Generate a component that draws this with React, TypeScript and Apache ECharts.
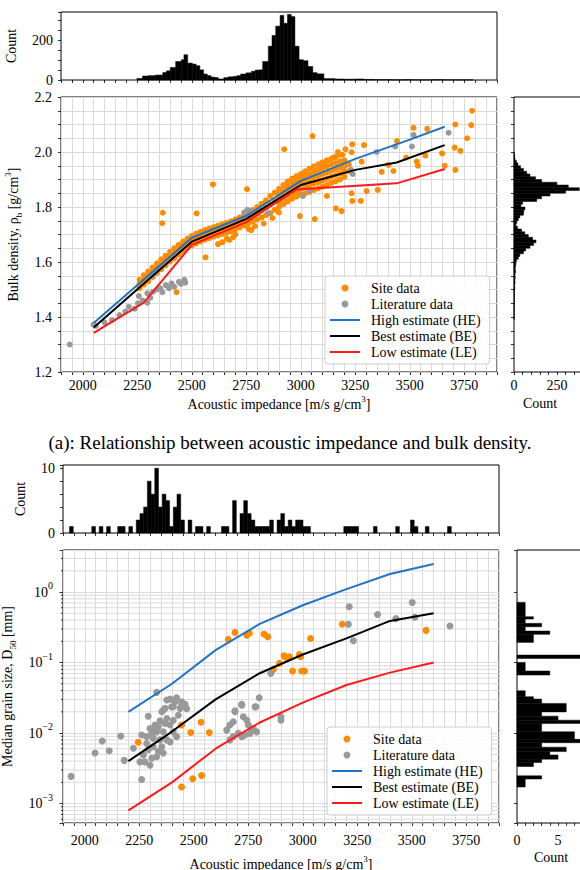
import React, { useEffect, useRef } from "react";
import * as echarts from "echarts";

const FONT = '"Liberation Serif", "Times New Roman", "DejaVu Serif", serif';
const SERIES_NAMES = ["Site data", "Literature data", "High estimate (HE)", "Best estimate (BE)", "Low estimate (LE)"];
const X_TICK_LABELS = [2000, 2250, 2500, 2750, 3000, 3250, 3500, 3750];
const X_MIN = 1900;
const X_MAX = 3900;
const COL_SITE = "#ff8c00";
const COL_LIT = "#999999";
const COL_HE = "#1f74c6";
const COL_BE = "#000000";
const COL_LE = "#ff1a1a";
const GRID_C = "#dadada";
const CAPTION_A = "(a): Relationship between acoustic impedance and bulk density.";

// ---------------- Panel (a): impedance vs bulk density ----------------
// top histogram: [x0, x1, count]
const topHistA: [number, number, number][] = [
  [2248, 2274, 8], [2274, 2299, 20], [2299, 2333, 22], [2333, 2367, 25], [2367, 2384, 38], [2384, 2401, 46],
  [2401, 2426, 63], [2426, 2452, 93], [2452, 2464, 102], [2464, 2481, 127], [2481, 2503, 85], [2503, 2520, 80],
  [2520, 2537, 72], [2537, 2554, 51], [2554, 2571, 30], [2571, 2588, 22], [2588, 2605, 15], [2605, 2622, 12],
  [2622, 2647, 5], [2647, 2668, 12], [2668, 2690, 16], [2690, 2707, 18], [2707, 2724, 22], [2724, 2749, 30],
  [2749, 2774, 36], [2774, 2791, 44], [2791, 2808, 50], [2808, 2825, 51], [2825, 2851, 93], [2851, 2868, 170],
  [2868, 2885, 224], [2885, 2905, 271], [2905, 2922, 325], [2922, 2939, 285], [2939, 2956, 330], [2956, 2973, 319],
  [2973, 2992, 170], [2992, 3012, 102], [3012, 3033, 97], [3033, 3055, 68], [3055, 3075, 37], [3075, 3106, 31],
  [3106, 3157, 7], [3157, 3200, 5], [3200, 3250, 4], [3250, 3290, 5], [3290, 3335, 3], [3335, 3380, 2],
  [3380, 3420, 2], [3420, 3470, 1], [3470, 3510, 2], [3510, 3560, 1], [3560, 3610, 1], [3610, 3650, 2],
  [3650, 3700, 1], [3700, 3750, 1], [3750, 3790, 1],
];
// right histogram: [lower edge, count], bin width below
const rightHistABin = 0.01;
const rightHistA: [number, number][] = [
  [1.39, 1], [1.40, 1], [1.41, 1], [1.42, 1], [1.43, 2], [1.44, 1], [1.45, 2], [1.46, 2], [1.47, 3], [1.48, 2],
  [1.49, 3], [1.50, 5], [1.51, 3], [1.52, 6], [1.53, 5], [1.54, 7], [1.55, 6], [1.56, 9], [1.57, 7], [1.58, 9],
  [1.59, 11], [1.60, 14], [1.61, 25], [1.62, 34], [1.63, 55], [1.64, 68], [1.65, 93], [1.66, 114], [1.67, 128],
  [1.68, 108], [1.69, 83], [1.70, 63], [1.71, 44], [1.72, 20], [1.73, 11], [1.74, 16], [1.75, 25], [1.76, 34],
  [1.77, 55], [1.78, 57], [1.79, 64], [1.80, 40], [1.81, 50], [1.82, 132], [1.83, 160], [1.84, 210], [1.85, 300],
  [1.86, 380], [1.87, 316], [1.88, 250], [1.89, 161], [1.90, 125], [1.91, 93], [1.92, 74], [1.93, 55], [1.94, 38],
  [1.95, 23], [1.96, 14], [1.97, 6], [1.98, 3], [1.99, 2],
];
// dense site-data band: [impedance, densities read at that impedance]
const siteBandA: [number, number[]][] = [
  [2260, [1.505, 1.52, 1.535]], [2280, [1.518, 1.535, 1.552]], [2300, [1.53, 1.548, 1.565]],
  [2320, [1.545, 1.562, 1.58]], [2340, [1.56, 1.578, 1.595]], [2360, [1.574, 1.592, 1.61]],
  [2380, [1.588, 1.606, 1.623]], [2400, [1.602, 1.62, 1.637]], [2420, [1.614, 1.632, 1.65]],
  [2440, [1.627, 1.645, 1.662]], [2460, [1.64, 1.657, 1.674]], [2480, [1.651, 1.668, 1.685]],
  [2500, [1.66, 1.678, 1.695]], [2520, [1.668, 1.686, 1.703]], [2540, [1.675, 1.693, 1.71]],
  [2560, [1.681, 1.699, 1.716]], [2580, [1.687, 1.705, 1.722]], [2600, [1.692, 1.71, 1.727]],
  [2620, [1.697, 1.715, 1.732]], [2640, [1.702, 1.72, 1.737]], [2660, [1.707, 1.725, 1.742]],
  [2680, [1.712, 1.73, 1.748]], [2700, [1.719, 1.737, 1.755]], [2720, [1.726, 1.744, 1.762]],
  [2740, [1.733, 1.752, 1.77]], [2760, [1.741, 1.76, 1.778]], [2780, [1.748, 1.769, 1.789]],
  [2800, [1.755, 1.778, 1.8]], [2820, [1.762, 1.788, 1.812]], [2840, [1.77, 1.798, 1.824]],
  [2860, [1.778, 1.81, 1.84]], [2880, [1.79, 1.822, 1.852]], [2900, [1.8, 1.818, 1.834, 1.85, 1.866]],
  [2920, [1.81, 1.83, 1.846, 1.862, 1.88]], [2940, [1.82, 1.84, 1.858, 1.875, 1.893]],
  [2960, [1.83, 1.85, 1.868, 1.886, 1.903]], [2980, [1.838, 1.858, 1.877, 1.895, 1.912]],
  [3000, [1.845, 1.866, 1.885, 1.903, 1.92]], [3020, [1.85, 1.872, 1.893, 1.912, 1.93]],
  [3040, [1.855, 1.878, 1.9, 1.92, 1.94]], [3060, [1.862, 1.885, 1.907, 1.928, 1.948]],
  [3080, [1.868, 1.89, 1.913, 1.935, 1.955]], [3100, [1.875, 1.897, 1.92, 1.942, 1.962]],
  [3120, [1.88, 1.903, 1.926, 1.948, 1.968]], [3140, [1.888, 1.91, 1.932, 1.955, 1.975]],
  [3160, [1.893, 1.915, 1.938, 1.96, 1.982]], [3180, [1.9, 1.922, 1.944, 1.966, 1.99]],
  [3200, [1.91, 1.93, 1.948, 1.97]], [3220, [1.93, 1.955]],
];
const siteScatterA: [number, number][] = [
  [2367, 1.779], [2364, 1.741], [2597, 1.882], [2563, 1.617], [2522, 1.777], [2753, 1.865], [2924, 2.01],
  [2996, 1.767], [2773, 1.716], [2673, 1.68], [3786, 2.15], [3782, 2.098], [3763, 2.05], [3709, 2.1],
  [3732, 2.004], [3706, 2.016], [3709, 1.935], [3660, 1.95], [3648, 1.995], [3517, 2.088], [3580, 2.084],
  [3441, 2.04], [3483, 1.98], [3532, 1.965], [3537, 1.95], [3571, 1.987], [3054, 2.058], [3236, 2.028],
  [3290, 2.025], [3233, 1.999], [3279, 1.965], [3371, 1.928], [3425, 1.931], [3402, 1.953], [3302, 1.858],
  [3353, 1.862], [3236, 1.822], [3275, 1.822], [3233, 1.85], [3161, 1.795], [3187, 1.785], [3064, 1.756],
  [2430, 1.49], [2700, 1.7], [2620, 1.665], [2640, 1.672], [2660, 1.685], [2690, 1.69], [2760, 1.72],
  [2790, 1.73], [2830, 1.74], [2870, 1.76], [2900, 1.78], [3120, 1.84], [3150, 1.98], [3170, 2.0],
  [3190, 1.99], [3120, 1.97], [3100, 1.96], [3205, 2.01],
];
const literatureA: [number, number][] = [
  [1940, 1.3], [2049, 1.372], [2060, 1.368], [2100, 1.38], [2134, 1.389], [2168, 1.407], [2195, 1.42],
  [2211, 1.437], [2238, 1.43], [2253, 1.45], [2257, 1.476], [2275, 1.46], [2296, 1.452], [2296, 1.486],
  [2310, 1.47], [2322, 1.492], [2340, 1.5], [2356, 1.504], [2365, 1.49], [2381, 1.516], [2395, 1.505],
  [2407, 1.522], [2420, 1.51], [2441, 1.528], [2450, 1.52], [2466, 1.535], [2470, 1.525], [2320, 1.55],
  [2330, 1.56], [2345, 1.575], [2740, 1.78], [2755, 1.79], [2770, 1.785], [2850, 1.777], [3230, 1.935],
  [3238, 1.92], [3348, 2.0], [3433, 2.02], [3510, 2.02], [3517, 2.062], [3678, 2.07], [3010, 1.84], [3040, 1.86],
];
const highA: [number, number][] = [[2050, 1.378], [2500, 1.688], [2750, 1.768], [3000, 1.895], [3250, 1.975], [3500, 2.045], [3660, 2.092]];
const bestA: [number, number][] = [[2050, 1.362], [2500, 1.674], [2750, 1.757], [3000, 1.88], [3250, 1.935], [3440, 1.962], [3660, 2.025]];
const lowA: [number, number][] = [[2050, 1.342], [2280, 1.452], [2500, 1.662], [2750, 1.745], [2980, 1.864], [3440, 1.886], [3660, 1.938]];

// ---------------- Panel (b): impedance vs median grain size ----------------
const topHistBBin = 17;
const topHistB: [number, number][] = [
  [1930, 1], [2032, 1], [2066, 1], [2100, 1], [2151, 1], [2168, 1], [2202, 1], [2236, 2], [2253, 3], [2270, 4],
  [2287, 8], [2304, 6], [2321, 10], [2338, 4], [2355, 6], [2372, 5], [2389, 1], [2406, 4], [2423, 6], [2440, 2],
  [2474, 2], [2508, 1], [2525, 1], [2559, 1], [2627, 1], [2644, 1], [2678, 5], [2712, 3], [2729, 5], [2746, 3],
  [2763, 2], [2780, 1], [2797, 1], [2814, 1], [2831, 1], [2848, 2], [2882, 2], [2899, 3], [2916, 1], [2933, 2],
  [2950, 1], [2967, 2], [2984, 2], [3001, 1], [3018, 1], [3188, 1], [3205, 1], [3222, 1], [3239, 1], [3324, 1],
  [3426, 1], [3494, 2], [3511, 1], [3562, 1], [3664, 1],
];
// right histogram: [log10 lower edge, log10 upper edge, count]
const rightHistBLog: [number, number, number][] = [
  [-0.35, -0.146, 1], [-0.383, -0.35, 2], [-0.444, -0.383, 1], [-0.492, -0.444, 3], [-0.553, -0.492, 1],
  [-0.6, -0.553, 4], [-0.714, -0.6, 2], [-0.941, -0.894, 9], [-1.12, -0.998, 1], [-1.177, -1.12, 4],
  [-1.485, -1.4, 1], [-1.518, -1.485, 2], [-1.579, -1.518, 3], [-1.7, -1.579, 6], [-1.76, -1.7, 3],
  [-1.817, -1.76, 5], [-1.863, -1.817, 8], [-1.982, -1.863, 3], [-2.089, -1.982, 7], [-2.137, -2.089, 8],
  [-2.2, -2.137, 3], [-2.263, -2.2, 6], [-2.31, -2.263, 4], [-2.37, -2.31, 5], [-2.418, -2.37, 3],
  [-2.475, -2.418, 2], [-2.652, -2.606, 3], [-2.765, -2.652, 1],
];
const siteB: [number, number][] = [
  [2245, 0.0074], [2444, 0.013], [2486, 0.0102], [2533, 0.0142], [2571, 0.0102], [2444, 0.00172],
  [2495, 0.00225], [2536, 0.0025], [2658, 0.213], [2689, 0.268], [2743, 0.245], [2755, 0.26], [2822, 0.254],
  [2839, 0.232], [2865, 0.08], [2893, 0.0975], [2914, 0.125], [2918, 0.121], [2929, 0.118], [2938, 0.121],
  [2953, 0.076], [2984, 0.13], [2990, 0.121], [2995, 0.076], [3008, 0.076], [3036, 0.22], [3181, 0.35], [3565, 0.286],
];
const literatureB: [number, number][] = [
  [1937, 0.00243], [2047, 0.0052], [2080, 0.0077], [2112, 0.0056], [2165, 0.0091], [2181, 0.0041], [2223, 0.0061],
  [2261, 0.0022], [2291, 0.0173], [2322, 0.013], [2345, 0.0149], [2330, 0.0104], [2307, 0.0099], [2360, 0.0104],
  [2376, 0.0161], [2391, 0.013], [2406, 0.0152], [2429, 0.0179], [2360, 0.0211], [2398, 0.0235], [2444, 0.0256],
  [2467, 0.0222], [2376, 0.008], [2391, 0.0075], [2345, 0.008], [2314, 0.0084], [2284, 0.0071], [2291, 0.0058],
  [2314, 0.0064], [2337, 0.0055], [2360, 0.0052], [2353, 0.0064], [2269, 0.0049], [2253, 0.0039], [2276, 0.0039],
  [2299, 0.0035], [2307, 0.0044], [2330, 0.0046], [2261, 0.0094], [2284, 0.0089], [2299, 0.0116], [2314, 0.011],
  [2337, 0.0123], [2368, 0.0137], [2406, 0.0104], [2421, 0.0089], [2330, 0.0378], [2376, 0.0294], [2391, 0.0303],
  [2414, 0.0278], [2421, 0.0317], [2444, 0.0278], [2460, 0.0255], [2437, 0.0224], [2406, 0.0236], [2368, 0.0224],
  [2353, 0.0201], [2651, 0.011], [2666, 0.013], [2681, 0.0145], [2689, 0.02], [2720, 0.0248], [2727, 0.017],
  [2743, 0.0152], [2750, 0.013], [2765, 0.011], [2773, 0.0116], [2781, 0.0235], [2681, 0.0089], [2704, 0.0099],
  [2720, 0.0089], [2735, 0.0094], [2758, 0.0099], [2788, 0.0104], [2900, 0.017], [2900, 0.0152], [2666, 0.008],
  [2689, 0.0207], [2720, 0.0255], [2785, 0.0236], [2800, 0.0317], [2853, 0.07], [3213, 0.62], [3209, 0.35],
  [3232, 0.204], [3343, 0.48], [3427, 0.42], [3502, 0.71], [3514, 0.44], [3675, 0.33],
];
const highB: [number, number][] = [[2200, 0.02], [2400, 0.05], [2600, 0.15], [2800, 0.35], [3000, 0.65], [3200, 1.1], [3400, 1.8], [3600, 2.5]];
const bestB: [number, number][] = [[2200, 0.004], [2400, 0.0105], [2600, 0.03], [2800, 0.07], [3000, 0.13], [3200, 0.22], [3400, 0.39], [3600, 0.5]];
const lowB: [number, number][] = [[2200, 0.0008], [2400, 0.002], [2600, 0.006], [2800, 0.014], [3000, 0.027], [3200, 0.048], [3400, 0.072], [3600, 0.1]];
const Y_B_MIN = 0.00053;
const Y_B_MAX = 3.95;

const TICK_TXT = { fontFamily: FONT, fontSize: 14, color: "#000" };
const NAME_TXT = {
  fontFamily: FONT, fontSize: 14, color: "#000", lineHeight: 20,
  rich: {
    sup: { fontFamily: FONT, fontSize: 9, color: "#000", verticalAlign: "top" },
    sub: { fontFamily: FONT, fontSize: 9, color: "#000", verticalAlign: "bottom" },
  },
};
const TICK = { show: true, length: 3, lineStyle: { color: "#000", width: 0.8 } };

function isMult(v: number, step: number) {
  const r = v / step;
  return Math.abs(r - Math.round(r)) < 1e-6;
}

function impAxis(grid: number, main: boolean, margin: number, nameGap: number) {
  return {
    type: "value", gridIndex: grid, min: X_MIN, max: X_MAX, interval: 50,
    axisLine: { show: false }, axisTick: TICK,
    splitLine: { show: main, lineStyle: { color: GRID_C, width: 1 } },
    axisLabel: { show: main, margin, ...TICK_TXT, formatter: (v: number) => (X_TICK_LABELS.indexOf(v) >= 0 ? String(v) : "") },
    name: main ? "Acoustic impedance [m/s g/cm{sup|3}]" : "",
    nameLocation: "middle", nameGap, nameTextStyle: NAME_TXT,
  };
}

function countAxis(grid: number, max: number, interval: number, labels: number[], margin: number) {
  return {
    type: "value", gridIndex: grid, min: 0, max, interval,
    axisLine: { show: false }, axisTick: TICK, splitLine: { show: false },
    axisLabel: { margin, ...TICK_TXT, formatter: (v: number) => (labels.indexOf(v) >= 0 ? String(v) : "") },
  };
}

const logFmt = (v: number) => {
  const e = Math.log10(v);
  const r = Math.round(e);
  if (Math.abs(e - r) > 1e-6) return "";
  return "{b|10}{sup|" + (r < 0 ? "\u2212" + -r : String(r)) + "}";
};

const renderVBar = (_p: any, api: any) => {
  const a = api.coord([api.value(0), 0]);
  const b = api.coord([api.value(1), api.value(2)]);
  return { type: "rect", shape: { x: a[0], y: b[1], width: b[0] - a[0], height: a[1] - b[1] }, style: { fill: "#000", stroke: "#000", lineWidth: 0.5 } };
};
const renderHBar = (_p: any, api: any) => {
  const a = api.coord([0, api.value(0)]);
  const b = api.coord([api.value(2), api.value(1)]);
  return { type: "rect", shape: { x: a[0], y: b[1], width: b[0] - a[0], height: a[1] - b[1] }, style: { fill: "#000", stroke: "#000", lineWidth: 0.5 } };
};
const renderMinorLog = (_p: any, api: any) => {
  const a = api.coord([X_MIN, api.value(1)]);
  const b = api.coord([X_MAX, api.value(1)]);
  return {
    type: "group",
    children: [
      { type: "line", shape: { x1: a[0], y1: a[1], x2: b[0], y2: b[1] }, style: { stroke: GRID_C, lineWidth: 1 } },
      { type: "line", shape: { x1: a[0] - 2, y1: a[1], x2: a[0], y2: a[1] }, style: { stroke: "#000", lineWidth: 0.8 } },
    ],
  };
};

function buildOption() {
  const minorB: number[][] = [];
  for (let d = -4; d <= 0; d++) {
    for (let m = 2; m <= 9; m++) {
      const v = m * Math.pow(10, d);
      if (v > Y_B_MIN && v < Y_B_MAX) minorB.push([X_MIN, v]);
    }
  }
  const siteAData: number[][] = [];
  siteBandA.forEach(([x, ys]) => ys.forEach((y) => siteAData.push([x, y])));
  siteScatterA.forEach((p) => siteAData.push(p));

  const gridBase = { show: true, borderColor: "#000", borderWidth: 1, backgroundColor: "transparent", containLabel: false, outerBoundsMode: "none" };
  const hideSym = { opacity: 0, borderWidth: 0 };
  const legendBase = {
    data: [
      { name: SERIES_NAMES[0], icon: "circle" },
      { name: SERIES_NAMES[1], icon: "circle" },
      { name: SERIES_NAMES[2], itemStyle: hideSym },
      { name: SERIES_NAMES[3], itemStyle: hideSym },
      { name: SERIES_NAMES[4], itemStyle: hideSym },
    ],
    orient: "vertical", itemWidth: 30, itemHeight: 7, itemGap: 0, padding: [4, 9, 4, 4],
    backgroundColor: "rgba(255,255,255,0.85)", borderColor: "#cccccc", borderWidth: 1, borderRadius: 3,
    selectedMode: false,
    textStyle: { ...TICK_TXT, lineHeight: 16, padding: [0, 0, 0, 6] },
  };
  const lineS = (name: string, data: number[][], color: string, xi: number) => ({
    name, type: "line", xAxisIndex: xi, yAxisIndex: xi, data, symbol: "none", showSymbol: false,
    lineStyle: { color, width: 2 }, itemStyle: { color }, z: 4, silent: true,
  });
  const scat = (name: string, data: number[][], color: string, xi: number, size: number, z: number) => ({
    name, type: "scatter", xAxisIndex: xi, yAxisIndex: xi, data, symbolSize: size,
    itemStyle: { color, opacity: 1 }, z, silent: true,
  });

  return {
    animation: false,
    backgroundColor: "#ffffff",
    textStyle: { fontFamily: FONT },
    grid: [
      { ...gridBase, left: 61, top: 12, width: 436, height: 68 },
      { ...gridBase, left: 61, top: 97, width: 436, height: 275 },
      { ...gridBase, left: 514, top: 97, width: 67, height: 275 },
      { ...gridBase, left: 63, top: 465, width: 436, height: 68 },
      { ...gridBase, left: 63, top: 550, width: 436, height: 273 },
      { ...gridBase, left: 517, top: 550, width: 64, height: 273 },
    ],
    xAxis: [
      impAxis(0, false, 6, 0),
      impAxis(1, true, 6, 22),
      countAxis(2, 390, 50, [0, 250], 6),
      impAxis(3, false, 10, 0),
      impAxis(4, true, 10, 31),
      countAxis(5, 7.8, 1, [0, 5], 10),
    ],
    yAxis: [
      {
        ...countAxis(0, 342, 50, [0, 200], 8),
        name: "Count", nameLocation: "middle", nameRotate: 90, nameGap: 34, nameTextStyle: NAME_TXT,
      },
      {
        type: "value", gridIndex: 1, min: 1.2, max: 2.2, interval: 0.05,
        axisLine: { show: false }, axisTick: TICK,
        splitLine: { show: true, lineStyle: { color: GRID_C, width: 1 } },
        axisLabel: { margin: 9, ...TICK_TXT, formatter: (v: number) => (isMult(v, 0.2) ? v.toFixed(1) : "") },
        name: "Bulk density, \u03c1{sub|b} [g/cm{sup|3}]", nameLocation: "middle", nameRotate: 90, nameGap: 33,
        nameTextStyle: NAME_TXT,
      },
      {
        type: "value", gridIndex: 2, min: 1.2, max: 2.2, interval: 0.05,
        axisLine: { show: false }, axisTick: TICK, splitLine: { show: false }, axisLabel: { show: false },
      },
      {
        ...countAxis(3, 10.5, 2, [0, 10], 8),
        name: "Count", nameLocation: "middle", nameRotate: 90, nameGap: 28, nameTextStyle: NAME_TXT,
      },
      {
        type: "log", logBase: 10, gridIndex: 4, min: Y_B_MIN, max: Y_B_MAX,
        axisLine: { show: false }, axisTick: { ...TICK, length: 3.5 },
        splitLine: { show: true, lineStyle: { color: GRID_C, width: 1 } },
        minorTick: { show: false }, minorSplitLine: { show: false },
        axisLabel: {
          margin: 10, ...TICK_TXT, formatter: logFmt,
          rich: {
            b: { fontFamily: FONT, fontSize: 14, color: "#000", lineHeight: 23, verticalAlign: "middle" },
            sup: { fontFamily: FONT, fontSize: 10, color: "#000", verticalAlign: "top" },
          },
        },
        name: "Median grain size, D{sub|50} [mm]", nameLocation: "middle", nameRotate: 90, nameGap: 39,
        nameTextStyle: NAME_TXT,
      },
      {
        type: "log", logBase: 10, gridIndex: 5, min: Y_B_MIN, max: Y_B_MAX,
        axisLine: { show: false }, axisTick: TICK, splitLine: { show: false }, axisLabel: { show: false },
      },
    ],
    legend: [
      { ...legendBase, left: 325, top: 276 },
      { ...legendBase, left: 327, top: 727 },
    ],
    graphic: [
      { type: "text", x: 290, y: 442, silent: true, style: { text: CAPTION_A, fontFamily: FONT, fontSize: 19, fill: "#000", align: "center", verticalAlign: "middle", textAlign: "center", textVerticalAlign: "middle" } },
      { type: "text", x: 540, y: 403, silent: true, style: { text: "Count", fontFamily: FONT, fontSize: 14, fill: "#000", align: "center", verticalAlign: "middle", textAlign: "center", textVerticalAlign: "middle" } },
      { type: "text", x: 551, y: 857, silent: true, style: { text: "Count", fontFamily: FONT, fontSize: 14, fill: "#000", align: "center", verticalAlign: "middle", textAlign: "center", textVerticalAlign: "middle" } },
    ],
    series: [
      { type: "custom", xAxisIndex: 0, yAxisIndex: 0, data: topHistA, encode: { x: [0, 1], y: 2 }, renderItem: renderVBar, silent: true },
      scat(SERIES_NAMES[0], siteAData, COL_SITE, 1, 6, 2),
      scat(SERIES_NAMES[1], literatureA, COL_LIT, 1, 6, 3),
      lineS(SERIES_NAMES[2], highA, COL_HE, 1),
      lineS(SERIES_NAMES[3], bestA, COL_BE, 1),
      lineS(SERIES_NAMES[4], lowA, COL_LE, 1),
      {
        type: "custom", xAxisIndex: 2, yAxisIndex: 2, encode: { y: [0, 1], x: 2 }, renderItem: renderHBar, silent: true,
        data: rightHistA.map(([lo, c]) => [lo, lo + rightHistABin, c]),
      },
      {
        type: "custom", xAxisIndex: 3, yAxisIndex: 3, encode: { x: [0, 1], y: 2 }, renderItem: renderVBar, silent: true,
        data: topHistB.map(([s, c]) => [s, s + topHistBBin, c]),
      },
      { type: "custom", xAxisIndex: 4, yAxisIndex: 4, data: minorB, encode: { x: 0, y: 1 }, renderItem: renderMinorLog, silent: true, z: 1 },
      scat(SERIES_NAMES[0], siteB, COL_SITE, 4, 7, 2),
      scat(SERIES_NAMES[1], literatureB, COL_LIT, 4, 7, 3),
      lineS(SERIES_NAMES[2], highB, COL_HE, 4),
      lineS(SERIES_NAMES[3], bestB, COL_BE, 4),
      lineS(SERIES_NAMES[4], lowB, COL_LE, 4),
      {
        type: "custom", xAxisIndex: 5, yAxisIndex: 5, encode: { y: [0, 1], x: 2 }, renderItem: renderHBar, silent: true,
        data: rightHistBLog.map(([lo, hi, c]) => [Math.pow(10, lo), Math.pow(10, hi), c]),
      },
    ],
  };
}

export default function App() {
  const ref = useRef<HTMLDivElement>(null);
  useEffect(() => {
    if (!ref.current) return;
    const chart = echarts.init(ref.current, null, { renderer: "svg" });
    chart.setOption(buildOption() as any);
    return () => chart.dispose();
  }, []);
  return <div ref={ref} style={{ position: "fixed", left: 0, top: 0, width: 580, height: 870, background: "#fff" }} />;
}
